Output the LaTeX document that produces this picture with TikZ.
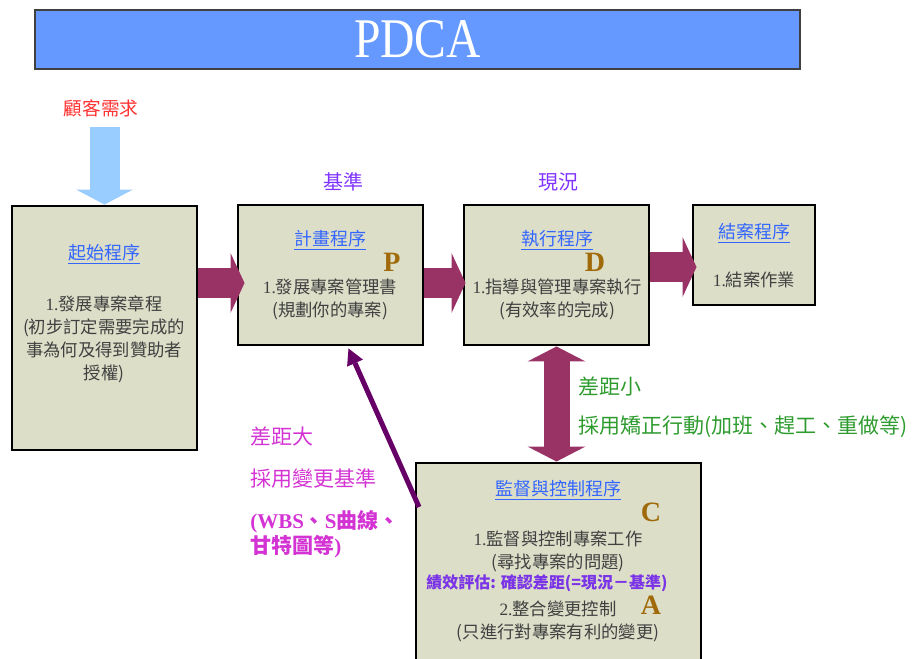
\documentclass[tikz,border=0pt]{standalone}
\usepackage{fontspec}
\setmainfont{Liberation Serif}
\newfontfamily\cjk{Noto Sans CJK TC}
\usepackage{tikz}
\usetikzlibrary{positioning,arrows.meta,calc}

\definecolor{boxfill}{HTML}{DCDEC8}
\definecolor{titlebar}{HTML}{6699FF}
\definecolor{linkblue}{HTML}{3366FF}
\definecolor{bodygray}{HTML}{404040}
\definecolor{letterbrown}{HTML}{A06A0A}
\definecolor{flowred}{HTML}{993366}
\definecolor{needblue}{HTML}{99CCFF}
\definecolor{gapline}{HTML}{660066}
\definecolor{needred}{HTML}{FF3333}
\definecolor{markviolet}{HTML}{8033FF}
\definecolor{smallgreen}{HTML}{2E9B2E}
\definecolor{biggap}{HTML}{D433D4}
\definecolor{evalviolet}{HTML}{7A33E6}

\tikzset{
  proc/.style={draw=black, line width=2.2pt, fill=boxfill, inner sep=0pt},
  ptitle/.style={text=linkblue, inner sep=0pt, font=\cjk\fontsize{13.5}{15}\selectfont},
  pbody/.style={text=bodygray, align=center, inner sep=0pt, font=\cjk\fontsize{13}{17.25}\selectfont},
  pdca/.style={text=letterbrown, inner sep=0pt, font=\bfseries\fontsize{21}{21}\selectfont},
  note/.style={anchor=west, inner sep=0pt, font=\cjk\fontsize{15.75}{18}\selectfont},
  flow/.style={flowred, line width=22.5pt, -{Triangle[width=45pt,length=10.5pt,line width=0pt]}},
}

\begin{document}
\begin{tikzpicture}[x=0.75pt, y=-0.75pt]
\useasboundingbox (0,0) rectangle (916,659);

% Define nodes

\node[draw=black!75, line width=1.5pt, fill=titlebar, minimum width=573.75pt, minimum height=44.25pt,
  text=white, font=\fontsize{42}{42}\selectfont] (head) at (417.5,39.5) {\scalebox{0.85}[1]{PDCA}};

\node[text=needred, font=\cjk\fontsize{14}{16}\selectfont] (need) at (101,108) {顧客需求};
\node[text=markviolet, font=\cjk\fontsize{15}{17}\selectfont] (base) at (343,182) {基準};
\node[text=markviolet, font=\cjk\fontsize{15}{17}\selectfont] (now) at (558,182) {現況};

\node[proc, minimum width=138.75pt, minimum height=183pt] (start) at (104.5,328) {};
\node[proc, minimum width=138.75pt, minimum height=105pt] (plan) at (330.5,275) {};
\node[proc, minimum width=138.75pt, minimum height=105pt] (exec) at (556.5,275) {};
\node[proc, minimum width=91.5pt, minimum height=75pt] (close) at (754,255) {};
\node[proc, minimum width=213.75pt, minimum height=162pt] (ctrl) at (558.5,571) {};

% texts in the boxes
\node[ptitle] (starttitle) at (104,254) {\underline{起始程序}};
\node[pbody] (startbody) at (104,339) {{\rmfamily 1.}發展專案章程\\(初步訂定需要完成的\\事為何及得到贊助者\\授權)};

\node[ptitle] (plantitle) at (330,240) {\underline{計畫程序}};
\node[pdca] (P) at (392,262) {P};
\node[pbody] (planbody) at (330,299) {{\rmfamily 1.}發展專案管理書\\(規劃你的專案)};

\node[ptitle] (exectitle) at (557,240) {\underline{執行程序}};
\node[pdca] (D) at (595,262) {D};
\node[pbody] (execbody) at (557,299) {{\rmfamily 1.}指導與管理專案執行\\(有效率的完成)};

\node[ptitle] (closetitle) at (754,233) {\underline{結案程序}};
\node[pbody] (closebody) at (754,280) {{\rmfamily 1.}結案作業};

\node[ptitle] (ctrltitle) at (558,490) {\underline{監督與控制程序}};
\node[pdca] (C) at (651,512) {C};
\node[pbody] (ctrlbody) at (558,551.5) {{\rmfamily 1.}監督與控制專案工作\\(尋找專案的問題)};
\node[text=evalviolet, inner sep=0pt, font=\cjk\bfseries\fontsize{12}{14}\selectfont] (eval) at (547,583) {績效評估: 確認差距(=現況－基準)};
\node[pdca] (A) at (651,605) {A};
\node[pbody] (ctrlbody2) at (558,621.5) {{\rmfamily 2.}整合變更控制\\(只進行對專案有利的變更)};

% side notes
\node[note, text=smallgreen] (small) at (578,387) {差距小};
\node[note, text=smallgreen] (fix) at (578,427) {採用矯正行動(加班、趕工、重做等)};
\node[note, text=biggap] (big) at (250,437) {差距大};
\node[note, text=biggap] (change) at (250,479) {採用變更基準};
\node[note, text=biggap] (tools) at (250,522) {\bfseries{\rmfamily(WBS}、{\rmfamily S}曲線、};
\node[note, text=biggap] (gantt) at (250,547) {\bfseries 甘特圖等{\rmfamily)}};

\coordinate (needtop) at (104.5,127);
\coordinate (lvl) at (0,283);
\coordinate (lvlb) at (0,267);
\coordinate (gapstart) at (419,507);

% Connect the nodes
\draw[needblue, line width=22.5pt, -{Triangle[width=42.75pt,length=11.25pt,line width=0pt]}] (needtop) -- (start.north); %
\draw[flow] (start.east |- lvl) -- ($(plan.west |- lvl)+(8,0)$); %
\draw[flow] (plan.east |- lvl) -- ($(exec.west |- lvl)+(3,0)$); %
\draw[flow] (exec.east |- lvlb) -- ($(close.west |- lvlb)+(5,0)$); %
\draw[flowred, line width=19.5pt, {Triangle[width=43.5pt,length=11.25pt,line width=0pt]}-{Triangle[width=43.5pt,length=11.25pt,line width=0pt]}]
  (exec.south) -- (exec.south |- ctrl.north); %
\draw[gapline, line width=3.75pt, -{Triangle[width=13pt,length=12pt,line width=0pt]}] (gapstart) -- ($(plan.south)+(18,2)$); %

\end{tikzpicture}
\end{document}
